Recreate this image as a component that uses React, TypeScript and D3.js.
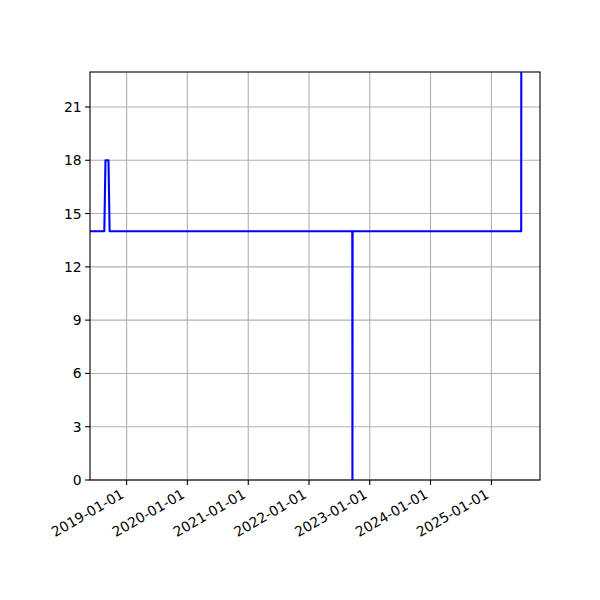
import React from "react";
import * as d3 from "d3";

// series (samples where the value changes)
const dates: string[] = [
    "2018-05-26", "2018-08-20", "2018-08-27", "2018-09-14", "2018-09-21",
    "2022-09-18", "2022-09-19", "2022-09-20", "2025-06-29", "2025-06-30", "2025-10-20",
];
const values: number[] = [14, 14, 18, 18, 14, 14, 0, 14, 14, 30, 30];

const xTicks: string[] = [
    "2019-01-01", "2020-01-01", "2021-01-01", "2022-01-01",
    "2023-01-01", "2024-01-01", "2025-01-01",
];
const yTicks: number[] = [0, 3, 6, 9, 12, 15, 18, 21];

const xDomain: string[] = ["2018-05-26", "2025-10-20"];
const yDomain: number[] = [0, 22.97];

const W = 600, H = 600;
const margin = { top: 72, right: 60, bottom: 120, left: 90 };
const FONT = "DejaVu Sans, sans-serif";

export default function App() {
    const parse = d3.utcParse("%Y-%m-%d");
    const x = d3.scaleUtc()
        .domain(xDomain.map(d => parse(d)!))
        .range([margin.left, W - margin.right]);
    const y = d3.scaleLinear()
        .domain(yDomain)
        .range([H - margin.bottom, margin.top]);

    const pts: [Date, number][] = dates.map((d, i) => [parse(d)!, values[i]!]);
    const line = d3.line<[Date, number]>()
        .x(p => x(p[0]))
        .y(p => y(p[1]));

    const x0 = margin.left, x1 = W - margin.right;
    const y0 = H - margin.bottom, y1 = margin.top;

    return (
        <svg width={W} height={H} style={{ position: "absolute", left: 0, top: 0, background: "white" }}
             fontFamily={FONT}>
            <defs>
                <clipPath id="plot">
                    <rect x={x0} y={y1} width={x1 - x0} height={y0 - y1} />
                </clipPath>
            </defs>

            {/* grid */}
            {xTicks.map(t => (
                <line key={"gx" + t} x1={x(parse(t)!)} x2={x(parse(t)!)} y1={y1} y2={y0}
                      stroke="#b0b0b0" strokeWidth={1.1} />
            ))}
            {yTicks.map(t => (
                <line key={"gy" + t} x1={x0} x2={x1} y1={y(t)} y2={y(t)}
                      stroke="#b0b0b0" strokeWidth={1.1} />
            ))}

            <path d={line(pts) ?? ""} fill="none" stroke="blue" strokeWidth={2.08}
                  strokeLinejoin="round" clipPath="url(#plot)" />

            {/* frame */}
            <rect x={x0} y={y1} width={x1 - x0} height={y0 - y1} fill="none" stroke="black" strokeWidth={1.1} />

            {/* y axis */}
            {yTicks.map(t => (
                <g key={"ty" + t}>
                    <line x1={x0 - 4.9} x2={x0} y1={y(t)} y2={y(t)} stroke="black" strokeWidth={1.1} />
                    <text x={x0 - 8.4} y={y(t)} dy="0.36em" textAnchor="end" fontSize={13.9}>{t}</text>
                </g>
            ))}

            {/* x axis */}
            {xTicks.map(t => {
                const tx = x(parse(t)!);
                return (
                    <g key={"tx" + t}>
                        <line x1={tx} x2={tx} y1={y0} y2={y0 + 4.9} stroke="black" strokeWidth={1.1} />
                        <text transform={`translate(${tx - 1.6},${y0 + 17}) rotate(-30)`}
                              textAnchor="end" fontSize={13.9}>{t}</text>
                    </g>
                );
            })}
        </svg>
    );
}
